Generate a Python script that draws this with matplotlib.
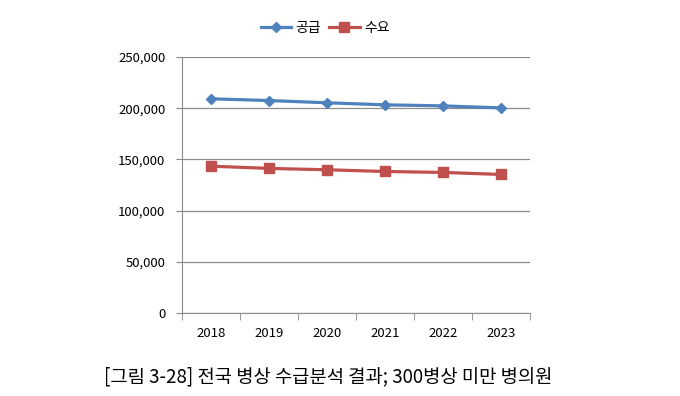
import numpy as np
import matplotlib.pyplot as plt

plt.rcParams['font.family'] = ['Noto Sans CJK KR', 'DejaVu Sans']

years = ['2018', '2019', '2020', '2021', '2022', '2023']
supply = [209200, 207500, 205300, 203300, 202300, 200300]
demand = [143400, 141200, 139900, 138200, 137300, 135300]
yticks = [0, 50000, 100000, 150000, 200000, 250000]
caption = '[그림 3-28] 전국 병상 수급분석 결과; 300병상 미만 병의원'

fig = plt.figure(figsize=(6.8, 3.96), dpi=100)
ax = fig.add_axes([0.2676, 0.2096, 0.5118, 0.6464])

x = np.arange(len(years))
ax.plot(x, supply, color='#4F81BD', lw=2.3, marker='D', ms=5.5,
        label='공급', zorder=3)
ax.plot(x, demand, color='#C0504D', lw=2.3, marker='s', ms=6.5,
        label='수요', zorder=3)

ax.set_xlim(-0.5, len(years) - 0.5)
ax.set_ylim(0, 250000)
ax.set_yticks(yticks)
ax.set_yticklabels([f'{v:,}' for v in yticks])
ax.set_xticks(x)
ax.set_xticklabels(years)
ax.set_xticks(np.arange(len(years) + 1) - 0.5, minor=True)
ax.tick_params(axis='x', which='major', length=0, pad=10, labelsize=9.5)
ax.tick_params(axis='x', which='minor', length=5, color='#888888')
ax.tick_params(axis='y', length=4, color='#888888', labelsize=9.5, pad=8)
ax.grid(axis='y', color='#8c8c8c', lw=0.9)
ax.set_axisbelow(True)
for s in ['top', 'right']:
    ax.spines[s].set_visible(False)
for s in ['left', 'bottom']:
    ax.spines[s].set_color('#8c8c8c')

fig.legend(loc='center', bbox_to_anchor=(0.478, 0.93), ncol=2, frameon=False,
           fontsize=10, handlelength=2.2, columnspacing=0.6, handletextpad=0.3)

fig.text(0.482, 0.048, caption, ha='center', va='center', fontsize=13.5)

fig.savefig('out.png', dpi=100)
